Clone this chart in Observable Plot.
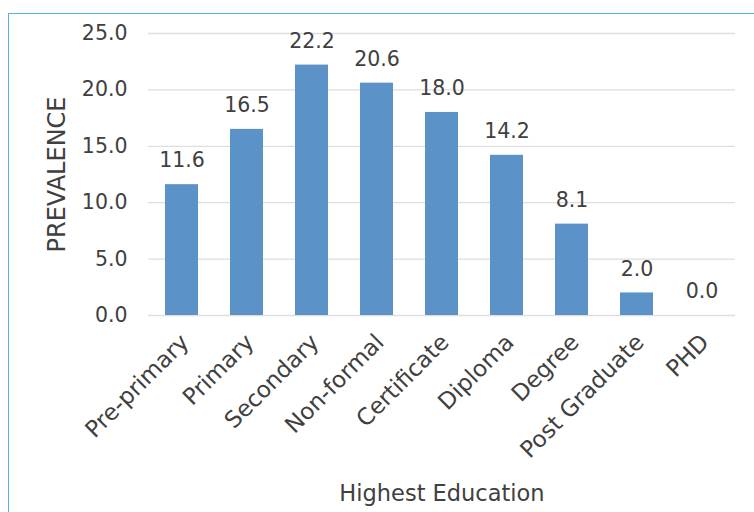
<!DOCTYPE html>
<html>
<head>
<meta charset="utf-8">
<script src="https://cdn.jsdelivr.net/npm/d3@7"></script>
<script src="https://cdn.jsdelivr.net/npm/@observablehq/plot@0.6"></script>
<style>
  html, body { margin: 0; padding: 0; background: #fff; }
  #wrap { position: relative; width: 754px; height: 512px; overflow: hidden; }
  #frame { position: absolute; left: 8px; top: 13px; width: 800px; height: 600px;
           border-top: 1.5px solid #55b3e6; border-left: 1.5px solid #55b3e6; pointer-events: none; }
  #chart { position: absolute; left: 0; top: 0; }
</style>
</head>
<body>
<div id="wrap">
  <div id="chart"></div>
  <div id="frame"></div>
</div>
<script>
const categories = ["Pre-primary", "Primary", "Secondary", "Non-formal", "Certificate", "Diploma", "Degree", "Post Graduate", "PHD"];
const prevalence = [11.6, 16.5, 22.2, 20.6, 18.0, 14.2, 8.1, 2.0, 0.0];
const yTicks = [0, 5, 10, 15, 20, 25];
const xTitle = "Highest Education";
const yTitle = "PREVALENCE";

const data = categories.map((c, i) => ({ category: c, value: prevalence[i] }));
const font = "DejaVu Sans, sans-serif";

const chart = Plot.plot({
  width: 754,
  height: 512,
  marginLeft: 148,
  marginRight: 19,
  marginTop: 33,
  marginBottom: 197,
  style: { fontFamily: font, background: "transparent", color: "#404040" },
  x: { domain: categories, paddingInner: 0.5, paddingOuter: 0.25, axis: null },
  y: { domain: [0, 25], axis: null },
  marks: [
    Plot.ruleY(yTicks, { stroke: "#dedede", strokeWidth: 1.3 }),
    Plot.barY(data, { x: "category", y: "value", fill: "#5b93c8" }),
    Plot.text(yTicks, { y: d => d, frameAnchor: "left", dx: -21, text: d => d.toFixed(1), textAnchor: "end", fontSize: 20.5, fill: "#404040" }),
    Plot.text(data, { x: "category", y: "value", text: d => d.value.toFixed(1), dy: -24, fontSize: 20.5, fill: "#404040" }),
    Plot.text(data, { x: "category", frameAnchor: "bottom", text: "category", rotate: -45, textAnchor: "end", lineAnchor: "middle", dx: 3, dy: 23, fontSize: 23, fill: "#404040" }),
    Plot.text([xTitle], { frameAnchor: "bottom", dy: 178, lineAnchor: "middle", textAnchor: "middle", fontSize: 22.5, fill: "#404040" }),
    Plot.text([yTitle], { frameAnchor: "left", dx: -91, rotate: -90, textAnchor: "middle", lineAnchor: "middle", fontSize: 24, fill: "#404040" })
  ]
});
document.getElementById("chart").appendChild(chart);
</script>
</body>
</html>
